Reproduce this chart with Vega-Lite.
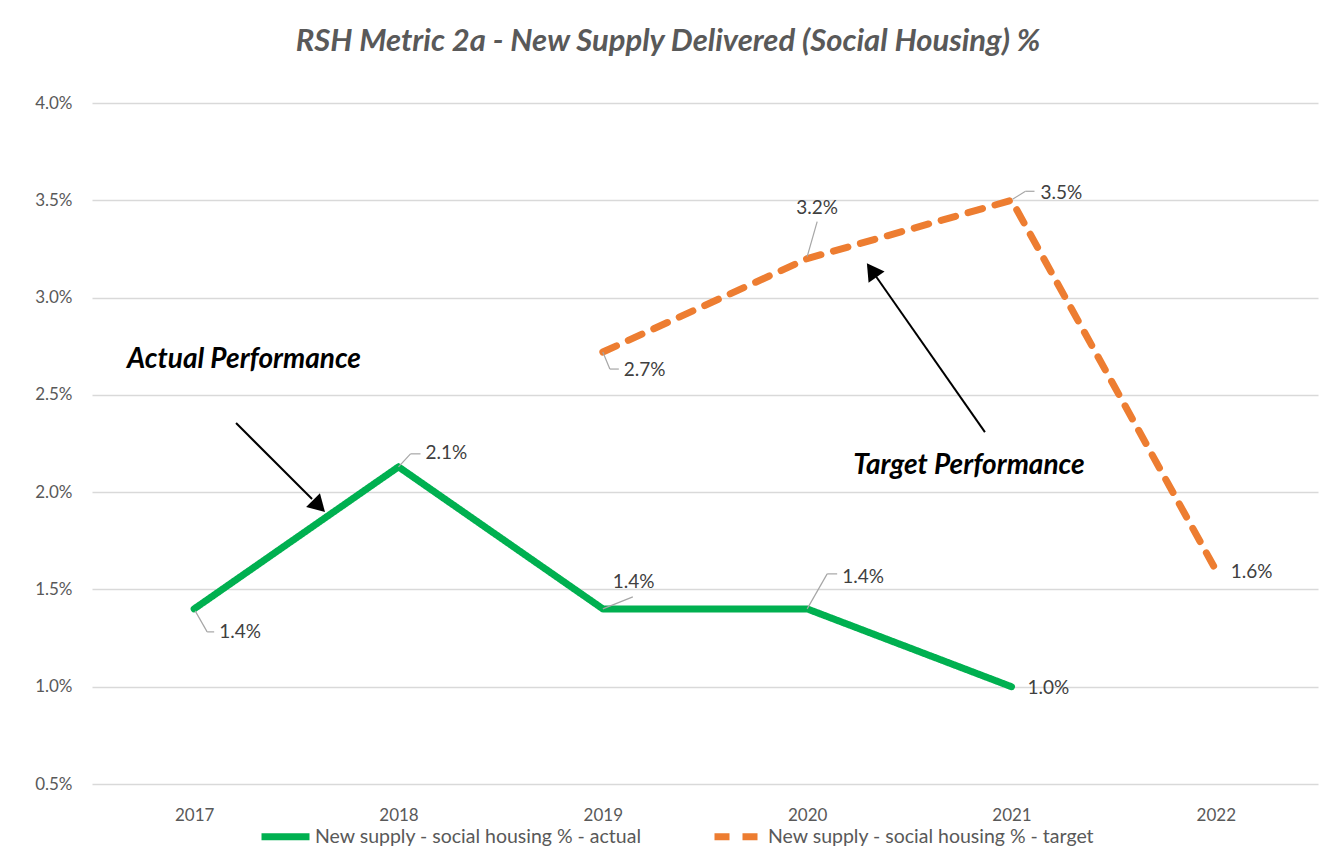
{
  "$schema": "https://vega.github.io/schema/vega-lite/v6.json",
  "width": 1226,
  "height": 681,
  "autosize": {"type": "none"},
  "padding": {"left": 92, "top": 103, "right": 15, "bottom": 77},
  "background": "white",
  "title": {
    "text": "RSH Metric 2a - New Supply Delivered (Social Housing) %",
    "font": "Lato",
    "fontSize": 31,
    "fontStyle": "italic",
    "fontWeight": "bold",
    "color": "#595959",
    "anchor": "middle",
    "offset": 36,
    "dx": -37
  },
  "config": {
    "view": {"stroke": null},
    "font": "Lato"
  },
  "datasets": {
    "series": [
      {"year": 2017, "value": 0.014, "series": "New supply - social housing % - actual"},
      {"year": 2018, "value": 0.0213, "series": "New supply - social housing % - actual"},
      {"year": 2019, "value": 0.014, "series": "New supply - social housing % - actual"},
      {"year": 2020, "value": 0.014, "series": "New supply - social housing % - actual"},
      {"year": 2021, "value": 0.010, "series": "New supply - social housing % - actual"},
      {"year": 2019, "value": 0.0272, "series": "New supply - social housing % - target"},
      {"year": 2020, "value": 0.032, "series": "New supply - social housing % - target"},
      {"year": 2021, "value": 0.035, "series": "New supply - social housing % - target"},
      {"year": 2022, "value": 0.0160, "series": "New supply - social housing % - target"}
    ],
    "notes": [
      {"text": "Actual Performance", "year": 2017.244, "value": 0.02679},
      {"text": "Target Performance", "year": 2020.792, "value": 0.02134}
    ],
    "arrows": [
      {"id": "a", "year": 2017.205, "value": 0.02355, "year2": 2017.577, "value2": 0.019645, "hyear": 2017.611, "hvalue": 0.019286, "angle": 135},
      {"id": "t", "year": 2020.870, "value": 0.023088, "year2": 2020.338, "value2": 0.031069, "hyear": 2020.316, "hvalue": 0.031403, "angle": 325}
    ]
  },
  "encoding": {
    "x": {
      "field": "year",
      "type": "quantitative",
      "scale": {"domain": [2016.5, 2022.5], "nice": false, "zero": false},
      "axis": {
        "values": [2017, 2018, 2019, 2020, 2021, 2022],
        "format": "d",
        "grid": false,
        "ticks": false,
        "domain": false,
        "title": null,
        "labelFontSize": 17,
        "labelColor": "#595959",
        "labelPadding": 23
      }
    },
    "y": {
      "field": "value",
      "type": "quantitative",
      "scale": {"domain": [0.005, 0.04], "nice": false, "zero": false},
      "axis": {
        "values": [0.005, 0.01, 0.015, 0.02, 0.025, 0.03, 0.035, 0.04],
        "format": ".1%",
        "grid": true,
        "gridColor": "#D9D9D9",
        "gridWidth": 1.3,
        "ticks": false,
        "domain": false,
        "title": null,
        "labelFontSize": 17,
        "labelColor": "#595959",
        "labelPadding": 20
      }
    }
  },
  "layer": [
    {
      "data": {"name": "series"},
      "mark": {"type": "line", "strokeWidth": 7, "strokeCap": "round", "strokeJoin": "round"},
      "encoding": {
        "color": {
          "field": "series",
          "type": "nominal",
          "scale": {
            "domain": ["New supply - social housing % - actual", "New supply - social housing % - target"],
            "range": ["#00B050", "#ED7D31"]
          },
          "legend": {
            "orient": "none",
            "legendX": 166,
            "legendY": 706,
            "direction": "horizontal",
            "title": null,
            "symbolType": "stroke",
            "symbolStrokeWidth": 7,
            "symbolSize": 2304,
            "labelFontSize": 19.5,
            "labelColor": "#595959",
            "labelOffset": 2,
            "labelLimit": 0,
            "columnPadding": 58
          }
        },
        "strokeDash": {
          "field": "series",
          "type": "nominal",
          "scale": {
            "domain": ["New supply - social housing % - actual", "New supply - social housing % - target"],
            "range": [[1, 0], [15, 13]]
          },
          "legend": {
            "orient": "none",
            "legendX": 166,
            "legendY": 706,
            "direction": "horizontal",
            "title": null,
            "symbolType": "stroke",
            "symbolStrokeWidth": 7,
            "symbolSize": 2304,
            "labelFontSize": 19.5,
            "labelColor": "#595959",
            "labelOffset": 2,
            "labelLimit": 0,
            "columnPadding": 58
          }
        }
      }
    },
    {
      "data": {"name": "series"},
      "transform": [{"filter": "datum.year == 2017 && indexof(datum.series, 'actual') >= 0"}],
      "layer": [
        {"mark": {"type": "rule", "color": "#A6A6A6", "strokeWidth": 1.2, "xOffset": 1, "yOffset": 2, "x2Offset": 13, "y2Offset": 23}, "encoding": {"x2": {"field": "year"}, "y2": {"field": "value"}}},
        {"mark": {"type": "rule", "color": "#A6A6A6", "strokeWidth": 1.2, "xOffset": 13, "yOffset": 23, "x2Offset": 20, "y2Offset": 23}, "encoding": {"x2": {"field": "year"}, "y2": {"field": "value"}}},
        {"mark": {"type": "text", "align": "left", "baseline": "middle", "dx": 25, "dy": 23, "fontSize": 19, "color": "#404040"}, "encoding": {"text": {"field": "value", "type": "quantitative", "format": ".1%"}}}
      ]
    },
    {
      "data": {"name": "series"},
      "transform": [{"filter": "datum.year == 2018 && indexof(datum.series, 'actual') >= 0"}],
      "layer": [
        {"mark": {"type": "rule", "color": "#A6A6A6", "strokeWidth": 1.2, "xOffset": 0, "yOffset": 0, "x2Offset": 12, "y2Offset": -13}, "encoding": {"x2": {"field": "year"}, "y2": {"field": "value"}}},
        {"mark": {"type": "rule", "color": "#A6A6A6", "strokeWidth": 1.2, "xOffset": 12, "yOffset": -13, "x2Offset": 22, "y2Offset": -13}, "encoding": {"x2": {"field": "year"}, "y2": {"field": "value"}}},
        {"mark": {"type": "text", "align": "left", "baseline": "middle", "dx": 27, "dy": -14, "fontSize": 19, "color": "#404040"}, "encoding": {"text": {"field": "value", "type": "quantitative", "format": ".1%"}}}
      ]
    },
    {
      "data": {"name": "series"},
      "transform": [{"filter": "datum.year == 2019 && indexof(datum.series, 'actual') >= 0"}],
      "layer": [
        {"mark": {"type": "rule", "color": "#A6A6A6", "strokeWidth": 1.2, "xOffset": 0, "yOffset": 0, "x2Offset": 30, "y2Offset": -12}, "encoding": {"x2": {"field": "year"}, "y2": {"field": "value"}}},
        {"mark": {"type": "text", "align": "left", "baseline": "middle", "dx": 10, "dy": -27, "fontSize": 19, "color": "#404040"}, "encoding": {"text": {"field": "value", "type": "quantitative", "format": ".1%"}}}
      ]
    },
    {
      "data": {"name": "series"},
      "transform": [{"filter": "datum.year == 2020 && indexof(datum.series, 'actual') >= 0"}],
      "layer": [
        {"mark": {"type": "rule", "color": "#A6A6A6", "strokeWidth": 1.2, "xOffset": 0, "yOffset": 0, "x2Offset": 20, "y2Offset": -35}, "encoding": {"x2": {"field": "year"}, "y2": {"field": "value"}}},
        {"mark": {"type": "rule", "color": "#A6A6A6", "strokeWidth": 1.2, "xOffset": 20, "yOffset": -35, "x2Offset": 30, "y2Offset": -35}, "encoding": {"x2": {"field": "year"}, "y2": {"field": "value"}}},
        {"mark": {"type": "text", "align": "left", "baseline": "middle", "dx": 35, "dy": -32, "fontSize": 19, "color": "#404040"}, "encoding": {"text": {"field": "value", "type": "quantitative", "format": ".1%"}}}
      ]
    },
    {
      "data": {"name": "series"},
      "transform": [{"filter": "datum.year == 2021 && indexof(datum.series, 'actual') >= 0"}],
      "mark": {"type": "text", "align": "left", "baseline": "middle", "dx": 16, "dy": 1, "fontSize": 19, "color": "#404040"},
      "encoding": {"text": {"field": "value", "type": "quantitative", "format": ".1%"}}
    },
    {
      "data": {"name": "series"},
      "transform": [{"filter": "datum.year == 2019 && indexof(datum.series, 'target') >= 0"}],
      "layer": [
        {"mark": {"type": "rule", "color": "#A6A6A6", "strokeWidth": 1.2, "xOffset": 0, "yOffset": 0, "x2Offset": 7, "y2Offset": 17}, "encoding": {"x2": {"field": "year"}, "y2": {"field": "value"}}},
        {"mark": {"type": "rule", "color": "#A6A6A6", "strokeWidth": 1.2, "xOffset": 7, "yOffset": 17, "x2Offset": 16, "y2Offset": 17}, "encoding": {"x2": {"field": "year"}, "y2": {"field": "value"}}},
        {"mark": {"type": "text", "align": "left", "baseline": "middle", "dx": 21, "dy": 18, "fontSize": 19, "color": "#404040"}, "encoding": {"text": {"field": "value", "type": "quantitative", "format": ".1%"}}}
      ]
    },
    {
      "data": {"name": "series"},
      "transform": [{"filter": "datum.year == 2020 && indexof(datum.series, 'target') >= 0"}],
      "layer": [
        {"mark": {"type": "rule", "color": "#A6A6A6", "strokeWidth": 1.2, "xOffset": 0, "yOffset": -2, "x2Offset": 10, "y2Offset": -37}, "encoding": {"x2": {"field": "year"}, "y2": {"field": "value"}}},
        {"mark": {"type": "text", "align": "left", "baseline": "middle", "dx": -11, "dy": -51, "fontSize": 19, "color": "#404040"}, "encoding": {"text": {"field": "value", "type": "quantitative", "format": ".1%"}}}
      ]
    },
    {
      "data": {"name": "series"},
      "transform": [{"filter": "datum.year == 2021 && indexof(datum.series, 'target') >= 0"}],
      "layer": [
        {"mark": {"type": "rule", "color": "#A6A6A6", "strokeWidth": 1.2, "xOffset": 1, "yOffset": -1, "x2Offset": 14, "y2Offset": -9}, "encoding": {"x2": {"field": "year"}, "y2": {"field": "value"}}},
        {"mark": {"type": "rule", "color": "#A6A6A6", "strokeWidth": 1.2, "xOffset": 14, "yOffset": -9, "x2Offset": 23, "y2Offset": -9}, "encoding": {"x2": {"field": "year"}, "y2": {"field": "value"}}},
        {"mark": {"type": "text", "align": "left", "baseline": "middle", "dx": 29, "dy": -7, "fontSize": 19, "color": "#404040"}, "encoding": {"text": {"field": "value", "type": "quantitative", "format": ".1%"}}}
      ]
    },
    {
      "data": {"name": "series"},
      "transform": [{"filter": "datum.year == 2022 && indexof(datum.series, 'target') >= 0"}],
      "mark": {"type": "text", "align": "left", "baseline": "middle", "dx": 15, "dy": 2, "fontSize": 19, "color": "#404040"},
      "encoding": {"text": {"field": "value", "type": "quantitative", "format": ".1%"}}
    },
    {
      "data": {"name": "notes"},
      "mark": {"type": "text", "align": "center", "baseline": "middle", "fontSize": 28, "fontStyle": "italic", "fontWeight": "bold", "color": "#000000"},
      "encoding": {"text": {"field": "text", "type": "nominal"}}
    },
    {
      "data": {"name": "arrows"},
      "mark": {"type": "rule", "color": "#000000", "strokeWidth": 2},
      "encoding": {"x2": {"field": "year2"}, "y2": {"field": "value2"}}
    },
    {
      "data": {"name": "arrows"},
      "mark": {"type": "point", "shape": "triangle-up", "filled": true, "color": "#000000", "size": 380, "opacity": 1},
      "encoding": {
        "x": {"field": "hyear", "type": "quantitative"},
        "y": {"field": "hvalue", "type": "quantitative"},
        "angle": {"field": "angle", "type": "quantitative", "scale": null}
      }
    }
  ]
}
